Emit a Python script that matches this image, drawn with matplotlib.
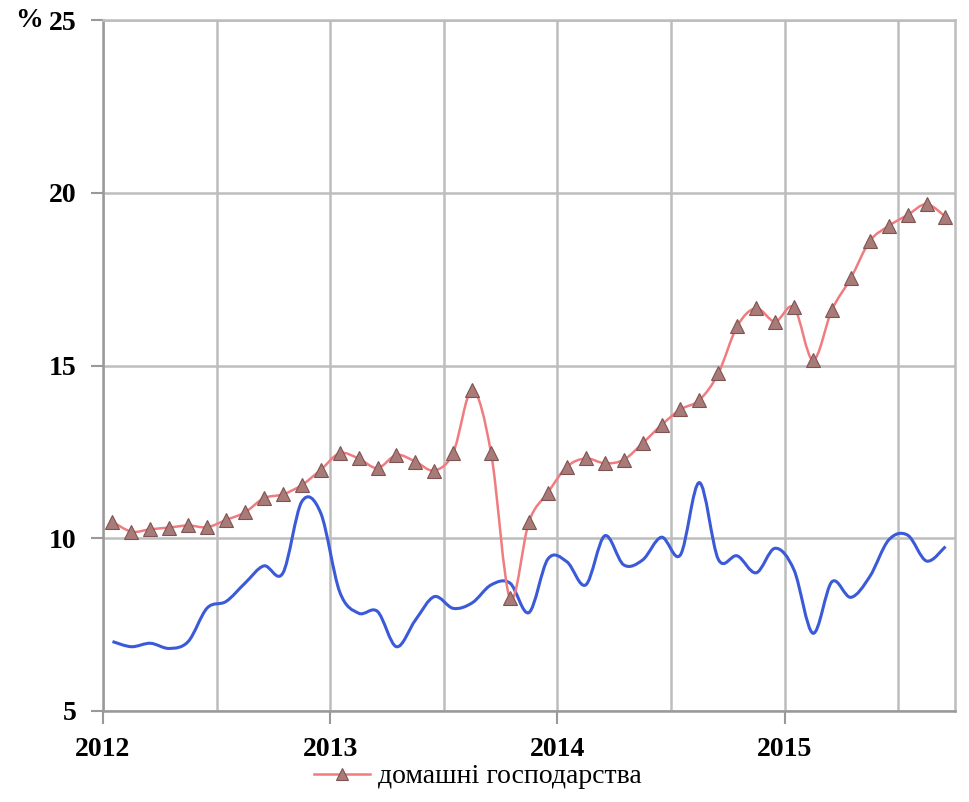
import numpy as np
import matplotlib
matplotlib.use('Agg')
import matplotlib.pyplot as plt
from matplotlib.path import Path
from matplotlib.patches import PathPatch
from matplotlib.lines import Line2D
from matplotlib.ticker import MultipleLocator

# monthly values, Jan 2012 .. Sep 2015
households = [10.48, 10.19, 10.26, 10.31, 10.37, 10.32, 10.53, 10.75, 11.16, 11.27,
              11.54, 11.98, 12.46, 12.31, 12.03, 12.41, 12.22, 11.96, 12.48, 14.29,
              12.46, 8.26, 10.48, 11.32, 12.07, 12.31, 12.17, 12.27, 12.75, 13.28,
              13.73, 14.00, 14.77, 16.14, 16.66, 16.27, 16.68, 15.16, 16.61, 17.53,
              18.60, 19.04, 19.36, 19.67, 19.31]
other = [7.01, 6.86, 6.96, 6.81, 7.01, 7.98, 8.17, 8.70, 9.20, 8.99,
         11.06, 10.73, 8.45, 7.83, 7.88, 6.86, 7.63, 8.31, 7.97, 8.13,
         8.65, 8.70, 7.85, 9.40, 9.32, 8.65, 10.07, 9.23, 9.37, 10.03,
         9.52, 11.61, 9.39, 9.49, 9.00, 9.71, 9.08, 7.25, 8.74, 8.29,
         8.89, 9.95, 10.09, 9.34, 9.76]
year_labels = ['2012', '2013', '2014', '2015']
legend_label = 'домашні господарства'

months = 2012 + (np.arange(len(households)) + 0.5) / 12


def smooth_path(x, y):
    # cubic bezier through every point (like a "smoothed line" in a spreadsheet)
    pts = np.column_stack([x, y])
    verts = [pts[0]]
    codes = [Path.MOVETO]
    n = len(pts)
    for i in range(n - 1):
        p0 = pts[max(i - 1, 0)]
        p1 = pts[i]
        p2 = pts[i + 1]
        p3 = pts[min(i + 2, n - 1)]
        c1 = p1 + (p2 - p0) / 6
        c2 = p2 - (p3 - p1) / 6
        verts += [c1, c2, p2]
        codes += [Path.CURVE4] * 3
    return Path(verts, codes)


red_line = '#f07c80'
tri_face = '#a87a78'
tri_edge = '#7e5452'
blue = '#3a5ad8'
grid_col = '#bdbdbd'

fig = plt.figure(figsize=(9.7, 8.02), dpi=100)
ax = fig.add_axes([0.1062, 0.1135, 0.8783, 0.8615])

ax.add_patch(PathPatch(smooth_path(months, other), fill=False, edgecolor=blue,
                       lw=2.2, zorder=3))
ax.add_patch(PathPatch(smooth_path(months, households), fill=False, edgecolor=red_line,
                       lw=1.8, zorder=4))
ax.plot(months, households, ls='none', marker='^', ms=10, mfc=tri_face,
        mec=tri_edge, mew=0.8, zorder=5)

ax.set_xlim(2012, 2015.75)
ax.set_ylim(5, 25)
ax.xaxis.set_minor_locator(MultipleLocator(0.5))
ax.yaxis.set_major_locator(MultipleLocator(5))
ax.set_xticks([2012, 2013, 2014, 2015])
ax.set_xticklabels(year_labels)
ax.grid(True, which='both', axis='x', color=grid_col, lw=1.8)
ax.grid(True, which='major', axis='y', color=grid_col, lw=1.8)
ax.set_axisbelow(True)

for s in ax.spines.values():
    s.set_color(grid_col)
    s.set_linewidth(1.8)
ax.spines['bottom'].set_color('#999999')
ax.spines['left'].set_color('#999999')

ax.tick_params(axis='both', which='major', length=9, width=1.5, color='#999999')
ax.tick_params(axis='x', which='major', pad=10)
ax.tick_params(axis='y', which='major', pad=10)
ax.tick_params(axis='x', which='minor', length=0)
for lab in ax.get_xticklabels() + ax.get_yticklabels():
    lab.set_fontfamily('Liberation Serif')
    lab.set_fontweight('bold')
    lab.set_fontsize(20)

ax.text(-0.103, 1.0, '%', transform=ax.transAxes, ha='left', va='center',
        family='Liberation Serif', weight='bold', size=20)

handle = Line2D([], [], color=red_line, lw=1.8, marker='^', ms=8,
                mfc=tri_face, mec=tri_edge, mew=0.8)
ax.legend([handle], [legend_label], loc='center', bbox_to_anchor=(0.44, -0.095),
          frameon=False, handlelength=2.0, handletextpad=0.3, borderpad=0.1,
          prop=dict(family='Liberation Serif', size=20))

fig.savefig('out.png', dpi=100)
